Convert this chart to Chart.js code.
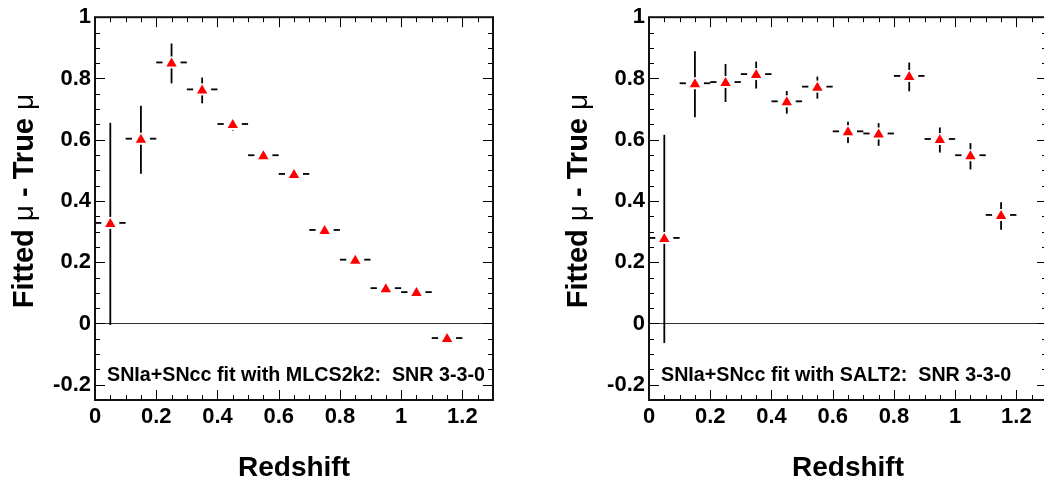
<!DOCTYPE html>
<html>
<head>
<meta charset="utf-8">
<script src="https://cdn.jsdelivr.net/npm/chart.js@4.4.0/dist/chart.umd.min.js"></script>
<style>
    html, body { margin: 0; padding: 0; background: #fff; overflow: hidden; }
    #wrap { position: relative; width: 1044px; height: 482px; overflow: hidden; }
    .pad { position: absolute; top: 0; width: 554px; height: 482px; }
</style>
</head>
<body>
<div id="wrap">
    <div class="pad" style="left:0"><canvas id="mlcs" width="554" height="482"></canvas></div>
    <div class="pad" style="left:554px"><canvas id="salt2" width="554" height="482"></canvas></div>
</div>
<script>
// bin centres in redshift, each bin is 0.1 wide
const zBins = [0.05, 0.15, 0.25, 0.35, 0.45, 0.55, 0.65, 0.75, 0.85, 0.95, 1.05, 1.15];
const zHalfWidth = 0.05;

// fitted mu - true mu, MLCS2k2
const mlcsValues = [0.325, 0.600, 0.849, 0.761, 0.648, 0.546, 0.485, 0.302, 0.205, 0.112, 0.099, -0.051];
const mlcsErrors = [0.330, 0.111, 0.065, 0.042, 0.018, 0.015, 0.015, 0.013, 0.012, 0.012, 0.012, 0.012];

// fitted mu - true mu, SALT2
const salt2Values = [0.276, 0.781, 0.785, 0.811, 0.722, 0.770, 0.624, 0.617, 0.805, 0.599, 0.546, 0.351];
const salt2Errors = [0.340, 0.108, 0.062, 0.044, 0.037, 0.036, 0.035, 0.037, 0.047, 0.041, 0.043, 0.045];

const xTicks = [0, 0.2, 0.4, 0.6, 0.8, 1.0, 1.2];
const yTicks = [-0.2, 0, 0.2, 0.4, 0.6, 0.8, 1.0];

const FONT = '"Liberation Sans", Arial, Helvetica, sans-serif';

function line(ctx, x1, y1, x2, y2) {
    ctx.beginPath();
    ctx.moveTo(x1, y1);
    ctx.lineTo(x2, y2);
    ctx.stroke();
}

// ROOT-like frame, inner ticks, zero line, error bars and titles
const rootStyle = {
    id: 'rootStyle',
    afterDatasetsDraw(chart, args, opts) {
        const ctx = chart.ctx;
        const a = chart.chartArea;
        const x = chart.scales.x, y = chart.scales.y;
        ctx.save();

        // zero line
        ctx.strokeStyle = '#333';
        ctx.lineWidth = 1;
        const y0 = Math.round(y.getPixelForValue(0)) + 0.5;
        line(ctx, a.left, y0, a.right, y0);

        // error bars, with a gap around the marker
        ctx.strokeStyle = '#000';
        ctx.lineWidth = 1.8;
        const hGap = 9, vGap = 6;
        const meta = chart.getDatasetMeta(0);
        const pts = chart.data.datasets[0].data;
        opts.errors.forEach((err, i) => {
            const p = pts[i];
            const px = meta.data[i].x, py = meta.data[i].y - 1;
            const xl = x.getPixelForValue(p.x - zHalfWidth);
            const xr = x.getPixelForValue(p.x + zHalfWidth);
            const yt = y.getPixelForValue(p.y + err);
            const yb = y.getPixelForValue(p.y - err);
            if (px - xl > hGap) line(ctx, xl, py, px - hGap, py);
            if (xr - px > hGap) line(ctx, px + hGap, py, xr, py);
            if (py - yt > vGap) line(ctx, px, yt, px, py - vGap);
            if (yb - py > vGap) line(ctx, px, py + vGap, px, yb);
        });

        // inner tick marks on all four sides
        ctx.strokeStyle = '#000';
        ctx.lineWidth = 1;
        for (let i = 0; i <= 26; i++) {
            const v = i * 0.05;
            const len = i % 4 === 0 ? 10 : 5;
            const px = Math.round(x.getPixelForValue(v)) + 0.5;
            line(ctx, px, a.bottom, px, a.bottom - len);
            line(ctx, px, a.top, px, a.top + len);
        }
        for (let i = -5; i <= 20; i++) {
            const v = i * 0.05;
            const len = (i % 4 === 0) ? 10 : 5;
            const py = Math.round(y.getPixelForValue(v)) + 0.5;
            line(ctx, a.left, py, a.left + len, py);
            line(ctx, a.right, py, a.right - len, py);
        }

        // frame
        ctx.lineWidth = 2;
        ctx.strokeStyle = '#111';
        ctx.strokeRect(a.left, a.top, a.right - a.left, a.bottom - a.top);
        ctx.restore();
    },
    afterDraw(chart, args, opts) {
        const ctx = chart.ctx;
        const a = chart.chartArea;
        ctx.save();
        ctx.fillStyle = '#000';

        // x title
        ctx.font = 'bold 28px ' + FONT;
        ctx.textAlign = 'center';
        ctx.textBaseline = 'alphabetic';
        ctx.fillText('Redshift', (a.left + a.right) / 2, 476);

        // y title with greek mu
        const parts = [
            ['Fitted ', 'bold 29px ' + FONT],
            ['\u03bc', 'normal 28px ' + FONT],
            [' - True ', 'bold 29px ' + FONT],
            ['\u03bc', 'normal 28px ' + FONT]
        ];
        let total = 0;
        parts.forEach(p => { ctx.font = p[1]; total += ctx.measureText(p[0]).width; });
        ctx.translate(33, 201);
        ctx.rotate(-Math.PI / 2);
        ctx.textAlign = 'left';
        let cx = -total / 2;
        parts.forEach(p => {
            ctx.font = p[1];
            ctx.fillText(p[0], cx, 0);
            cx += ctx.measureText(p[0]).width;
        });
        ctx.setTransform(1, 0, 0, 1, 0, 0);

        // fit label
        ctx.font = 'bold 19.7px ' + FONT;
        ctx.textAlign = 'left';
        ctx.fillText(opts.label, 107, 381);
        ctx.restore();
    }
};

function makePanel(canvasId, values, errors, label) {
    const ctx = document.getElementById(canvasId).getContext('2d');
    return new Chart(ctx, {
        type: 'scatter',
        data: {
            datasets: [{
                data: zBins.map((z, i) => ({ x: z, y: values[i] })),
                pointStyle: 'triangle',
                pointRadius: 6,
                pointHoverRadius: 6,
                backgroundColor: '#ff0000',
                borderColor: '#ff0000',
                borderWidth: 0
            }]
        },
        options: {
            responsive: false,
            animation: false,
            devicePixelRatio: 1,
            layout: { padding: { left: 0, top: 12, right: 61, bottom: 0 } },
            plugins: {
                legend: { display: false },
                tooltip: { enabled: false },
                rootStyle: { errors: errors, label: label }
            },
            scales: {
                x: {
                    type: 'linear',
                    min: 0,
                    max: 1.3,
                    grid: { display: false, drawTicks: false },
                    border: { display: false },
                    afterBuildTicks: s => { s.ticks = xTicks.map(v => ({ value: v })); },
                    afterFit: s => { s.height = 82; },
                    ticks: {
                        padding: 4,
                        maxRotation: 0,
                        autoSkip: false,
                        color: '#000',
                        font: { family: FONT, size: 22, weight: 'bold' },
                        callback: v => String(+v.toFixed(1))
                    }
                },
                y: {
                    type: 'linear',
                    min: -0.25,
                    max: 1,
                    grid: { display: false, drawTicks: false },
                    border: { display: false },
                    afterBuildTicks: s => { s.ticks = yTicks.map(v => ({ value: v })); },
                    afterFit: s => { s.width = 95; },
                    ticks: {
                        padding: 4,
                        autoSkip: false,
                        color: '#000',
                        font: { family: FONT, size: 22, weight: 'bold' },
                        callback: v => String(+v.toFixed(1))
                    }
                }
            }
        },
        plugins: [rootStyle]
    });
}

makePanel('mlcs', mlcsValues, mlcsErrors, 'SNIa+SNcc fit with MLCS2k2:  SNR 3-3-0');
makePanel('salt2', salt2Values, salt2Errors, 'SNIa+SNcc fit with SALT2:  SNR 3-3-0');
</script>
</body>
</html>
